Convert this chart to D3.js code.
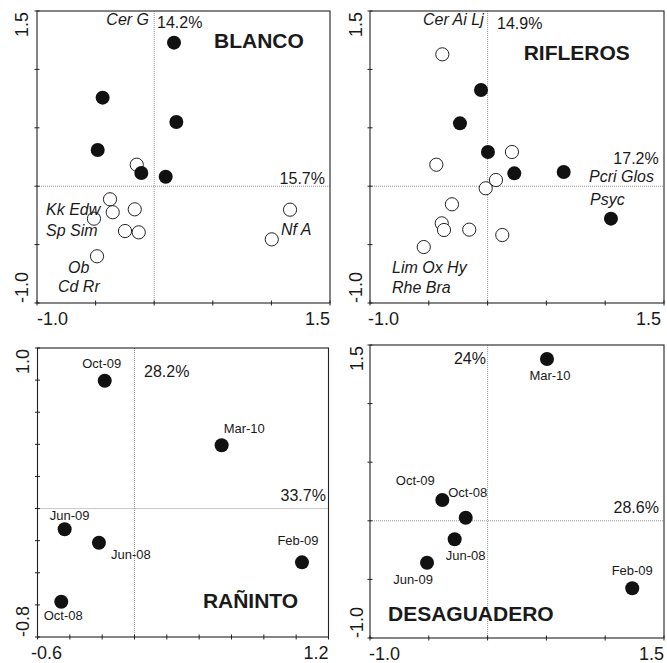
<!DOCTYPE html>
<html>
<head>
<meta charset="utf-8">
<script src="https://cdn.jsdelivr.net/npm/d3@7"></script>
<style>
  body { margin: 0; background: #fff; }
  svg { display: block; }
  text { font-family: "Liberation Sans", Arial, Helvetica, sans-serif; fill: #1a1a1a; }
</style>
</head>
<body>
<svg id="chart" width="667" height="663"></svg>
<script>
// ---- Ordination scores (axis 1, axis 2) ----

// Blanco: sampling units (filled) and taxa (open)
const blancoSites = [[0.169, 1.229], [-0.440, 0.758], [0.189, 0.550], [-0.482, 0.310], [-0.110, 0.113], [0.098, 0.081]];
const blancoTaxa = [[-0.149, 0.184], [-0.377, -0.112], [-0.354, -0.223], [-0.166, -0.198], [-0.514, -0.278],
                    [-0.249, -0.384], [-0.132, -0.395], [-0.488, -0.600], [1.159, -0.201], [1.003, -0.455]];

// Rifleros: sampling units (filled) and taxa (open)
const riflerosSites = [[-0.056, 0.824], [-0.235, 0.538], [0.003, 0.293], [0.227, 0.110], [0.647, 0.122], [1.049, -0.278]];
const riflerosTaxa = [[-0.385, 1.129], [0.207, 0.293], [-0.436, 0.184], [0.071, 0.053], [-0.016, -0.018], [-0.303, -0.155],
                      [-0.390, -0.318], [-0.371, -0.375], [-0.156, -0.372], [0.125, -0.418], [-0.543, -0.521]];

// Rañinto: sampling dates
const ranintoDates = ["Oct-09", "Mar-10", "Jun-09", "Jun-08", "Feb-09", "Oct-08"];
const ranintoAxis1 = [-0.184, 0.539, -0.432, -0.220, 1.036, -0.453];
const ranintoAxis2 = [0.796, 0.394, -0.129, -0.213, -0.335, -0.580];

// Desaguadero: sampling dates
const desaguaderoDates = ["Mar-10", "Oct-09", "Oct-08", "Jun-08", "Jun-09", "Feb-09"];
const desaguaderoAxis1 = [0.505, -0.385, -0.186, -0.280, -0.515, 1.230];
const desaguaderoAxis2 = [1.381, 0.177, 0.026, -0.158, -0.358, -0.576];

// Axis tick labels
const tickLabels = {
  blanco: { x: ["-1.0", "1.5"], y: ["1.5", "-1.0"] },
  rifleros: { x: ["-1.0", "1.5"], y: ["1.5", "-1.0"] },
  raninto: { x: ["-0.6", "1.2"], y: ["1.0", "-0.8"] },
  desaguadero: { x: ["-1.0", "1.5"], y: ["1.5", "-1.0"] }
};

const svg = d3.select("#chart");

// Label placement for dated points (offset from the point, text anchor)
const dateLabelPos = {
  raninto: {
    "Oct-09": [-3, -13, "middle"], "Mar-10": [2, -12, "start"], "Jun-09": [5, -9, "middle"],
    "Jun-08": [12, 16, "start"], "Feb-09": [-4, -17, "middle"], "Oct-08": [2, 18, "middle"]
  },
  desaguadero: {
    "Mar-10": [3, 21, "middle"], "Oct-09": [-27, -15, "middle"], "Oct-08": [2, -21, "middle"],
    "Jun-08": [11, 21, "middle"], "Jun-09": [-14, 21, "middle"], "Feb-09": [0, -13, "middle"]
  }
};

const panels = [
  {
    key: "blanco", box: { l: 37, r: 330, t: 11, b: 303 },
    xDom: [-1, 1.5], yDom: [-1, 1.5], step: 0.5,
    filled: blancoSites, open: blancoTaxa,
    xLab: [0, 0], yLabX: -9,
    notes: [
      { t: "Cer G", x: -0.044, y: 1.380, a: "end", s: "sp" },
      { t: "14.2%", x: 0.024, y: 1.354, a: "start", s: "pct" },
      { t: "BLANCO", x: 0.510, y: 1.183, a: "start", s: "title" },
      { t: "15.7%", x: 1.457, y: 0.019, a: "end", s: "pct" },
      { t: "Kk Edw", x: -0.923, y: -0.247, a: "start", s: "sp" },
      { t: "Sp Sim", x: -0.923, y: -0.430, a: "start", s: "sp" },
      { t: "Ob", x: -0.735, y: -0.743, a: "start", s: "sp" },
      { t: "Cd Rr", x: -0.821, y: -0.906, a: "start", s: "sp" },
      { t: "Nf A", x: 1.082, y: -0.420, a: "start", s: "sp" }
    ]
  },
  {
    key: "rifleros", box: { l: 370, r: 664, t: 11, b: 303 },
    xDom: [-1, 1.5], yDom: [-1, 1.5], step: 0.5,
    filled: riflerosSites, open: riflerosTaxa,
    xLab: [-2, -3], yLabX: -8,
    notes: [
      { t: "Cer Ai Lj", x: -0.033, y: 1.380, a: "end", s: "sp" },
      { t: "14.9%", x: 0.080, y: 1.346, a: "start", s: "pct" },
      { t: "RIFLEROS", x: 0.307, y: 1.080, a: "start", s: "title" },
      { t: "17.2%", x: 1.455, y: 0.190, a: "end", s: "pct" },
      { t: "Pcri Glos", x: 1.415, y: 0.036, a: "end", s: "sp" },
      { t: "Psyc", x: 0.871, y: -0.161, a: "start", s: "sp" },
      { t: "Lim Ox Hy", x: -0.813, y: -0.743, a: "start", s: "sp" },
      { t: "Rhe Bra", x: -0.813, y: -0.914, a: "start", s: "sp" }
    ]
  },
  {
    key: "raninto", box: { l: 37.5, r: 328.5, t: 348, b: 637 },
    xDom: [-0.6, 1.2], yDom: [-0.8, 1.0], step: 0.2,
    dates: ranintoDates, ax1: ranintoAxis1, ax2: ranintoAxis2,
    xLab: [-6.5, 0], yLabX: -9,
    notes: [
      { t: "28.2%", x: 0.059, y: 0.821, a: "start", s: "pct" },
      { t: "33.7%", x: 1.184, y: 0.049, a: "end", s: "pct" },
      { t: "RAÑINTO", x: 0.423, y: -0.621, a: "start", s: "title" }
    ]
  },
  {
    key: "desaguadero", box: { l: 370, r: 664, t: 345, b: 638 },
    xDom: [-1, 1.5], yDom: [-1, 1.5], step: 0.5,
    dates: desaguaderoDates, ax1: desaguaderoAxis1, ax2: desaguaderoAxis2,
    xLab: [-1, 0], yLabX: -7,
    notes: [
      { t: "24%", x: -0.014, y: 1.338, a: "end", s: "pct" },
      { t: "28.6%", x: 1.457, y: 0.069, a: "end", s: "pct" },
      { t: "DESAGUADERO", x: -0.847, y: -0.855, a: "start", s: "title" }
    ]
  }
];

const noteStyle = {
  sp: { size: 16, style: "italic", weight: "normal" },
  pct: { size: 16, style: "normal", weight: "normal" },
  title: { size: 21, style: "normal", weight: "bold" }
};

panels.forEach(p => {
  const { l, r, t, b } = p.box;
  const x = d3.scaleLinear().domain(p.xDom).range([l, r]);
  const y = d3.scaleLinear().domain(p.yDom).range([b, t]);
  const g = svg.append("g").attr("class", "panel-" + p.key);

  // zero lines through the origin
  g.append("line").attr("x1", x(0)).attr("x2", x(0)).attr("y1", t).attr("y2", b)
    .attr("stroke", "#777").attr("stroke-width", 0.8).attr("stroke-dasharray", "1,1");
  g.append("line").attr("x1", l).attr("x2", r).attr("y1", y(0)).attr("y2", y(0))
    .attr("stroke", "#777").attr("stroke-width", 0.8).attr("stroke-dasharray", "1,1");

  // frame
  g.append("rect").attr("x", l).attr("y", t).attr("width", r - l).attr("height", b - t)
    .attr("fill", "none").attr("stroke", "#222").attr("stroke-width", 1.1);

  // small tick marks crossing the left and bottom sides
  const n = Math.round((p.xDom[1] - p.xDom[0]) / p.step);
  const xTicks = d3.range(n + 1).map(i => p.xDom[0] + i * p.step);
  const m = Math.round((p.yDom[1] - p.yDom[0]) / p.step);
  const yTicks = d3.range(m + 1).map(i => p.yDom[0] + i * p.step);
  g.selectAll(".xt").data(xTicks).join("line")
    .attr("x1", d => x(d)).attr("x2", d => x(d)).attr("y1", b - 2.5).attr("y2", b + 2.5)
    .attr("stroke", "#222").attr("stroke-width", 1);
  g.selectAll(".yt").data(yTicks).join("line")
    .attr("y1", d => y(d)).attr("y2", d => y(d)).attr("x1", l - 2.5).attr("x2", l + 2.5)
    .attr("stroke", "#222").attr("stroke-width", 1);

  // axis end labels
  const tl = tickLabels[p.key];
  g.append("text").attr("x", x(p.xDom[0]) + p.xLab[0]).attr("y", b + 22)
    .attr("text-anchor", "start").attr("font-size", 18).text(tl.x[0]);
  g.append("text").attr("x", x(p.xDom[1]) + p.xLab[1]).attr("y", b + 22)
    .attr("text-anchor", "end").attr("font-size", 18).text(tl.x[1]);
  g.append("text").attr("transform", `translate(${l + p.yLabX},${y(p.yDom[1]) + 1}) rotate(-90)`)
    .attr("text-anchor", "end").attr("font-size", 18).text(tl.y[0]);
  g.append("text").attr("transform", `translate(${l + p.yLabX},${y(p.yDom[0])}) rotate(-90)`)
    .attr("text-anchor", "start").attr("font-size", 18).text(tl.y[1]);

  // points
  if (p.open) {
    g.selectAll(".open").data(p.open).join("circle")
      .attr("cx", d => x(d[0])).attr("cy", d => y(d[1])).attr("r", 6.6)
      .attr("fill", "#fff").attr("stroke", "#222").attr("stroke-width", 1);
  }
  if (p.filled) {
    g.selectAll(".filled").data(p.filled).join("circle")
      .attr("cx", d => x(d[0])).attr("cy", d => y(d[1])).attr("r", 7)
      .attr("fill", "#111");
  }
  if (p.dates) {
    const pts = p.dates.map((d, i) => ({ name: d, a1: p.ax1[i], a2: p.ax2[i] }));
    g.selectAll(".pt").data(pts).join("circle")
      .attr("cx", d => x(d.a1)).attr("cy", d => y(d.a2)).attr("r", 7)
      .attr("fill", "#111");
    g.selectAll(".dl").data(pts).join("text")
      .attr("x", d => x(d.a1) + dateLabelPos[p.key][d.name][0])
      .attr("y", d => y(d.a2) + dateLabelPos[p.key][d.name][1])
      .attr("text-anchor", d => dateLabelPos[p.key][d.name][2])
      .attr("font-size", 13).text(d => d.name);
  }

  // annotations: taxa names, explained variance, site name
  g.selectAll(".note").data(p.notes).join("text")
    .attr("x", d => x(d.x)).attr("y", d => y(d.y))
    .attr("text-anchor", d => d.a)
    .attr("font-size", d => noteStyle[d.s].size)
    .attr("font-style", d => noteStyle[d.s].style)
    .attr("font-weight", d => noteStyle[d.s].weight)
    .text(d => d.t);
});
</script>
</body>
</html>
